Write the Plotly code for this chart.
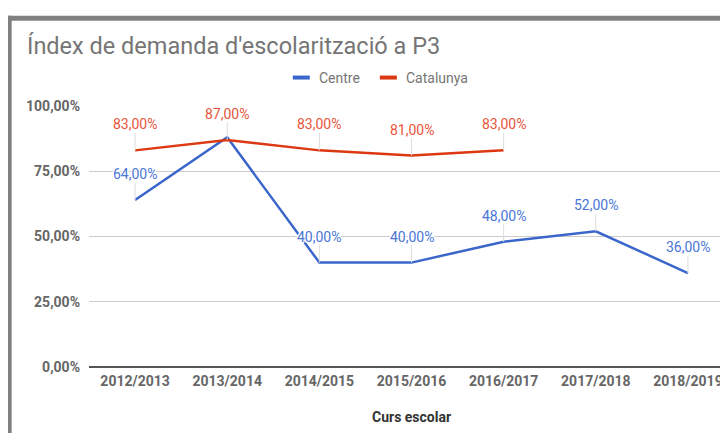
import plotly.graph_objects as go

cursos = ["2012/2013", "2013/2014", "2014/2015", "2015/2016", "2016/2017", "2017/2018", "2018/2019"]
centre = [64, 88, 40, 40, 48, 52, 36]
catalunya = [83, 87, 83, 81, 83, None, None]
series_names = ["Centre", "Catalunya"]
y_ticks = [0, 25, 50, 75, 100]
centre_hidden_labels = ["2013/2014"]

title_text = "Índex de demanda d'escolarització a P3"
x_title = "Curs escolar"

BLUE = "#3a66cc"
RED = "#dc3912"
BLUE_TXT = "#4a76d6"
RED_TXT = "#e8553a"


def fmt(v):
    return f"{v:.2f}".replace(".", ",") + "%"


# page body has an 8px margin: figure pixel = reference pixel - 8
OFF = 8
W, H = 720, 425
L, R, T, B = 89.3 - OFF, 0, 105.5 - OFF, H - (367 - OFF)
pw, ph = W - L - R, H - T - B
band = 92.1


def px_x(px):
    return (px - OFF - L) / pw


def px_y(py):
    return (H - B - (py - OFF)) / ph


fig = go.Figure()
fig.add_trace(go.Scatter(x=cursos, y=centre, name=series_names[0], mode="lines",
                         line=dict(color=BLUE, width=2.5)))
fig.add_trace(go.Scatter(x=cursos, y=catalunya, name=series_names[1], mode="lines",
                         line=dict(color=RED, width=2.5)))

halo = ("white 1px 0px 0px, white -1px 0px 0px, white 0px 1px 0px, white 0px -1px 0px, "
        "white 1px 1px 0px, white -1px -1px 0px, white 1px -1px 0px, white -1px 1px 0px")

annotations = []
for series, color in ((centre, BLUE_TXT), (catalunya, RED_TXT)):
    for c, v in zip(cursos, series):
        if v is None:
            continue
        if series is centre and c in centre_hidden_labels:
            continue
        annotations.append(dict(
            x=c, y=v, xref="x", yref="y", text=fmt(v), showarrow=True,
            ax=0, ay=-26, arrowhead=0, arrowwidth=1, arrowcolor="#dddddd",
            standoff=0, borderpad=0,
            font=dict(family="Roboto", size=14, color=color, shadow=halo)))

annotations.append(dict(
    x=px_x(411.6), y=px_y(417), xref="paper", yref="paper", text=x_title,
    showarrow=False, xanchor="center", yanchor="middle",
    font=dict(family="Roboto", size=14, color="#333333", weight="bold")))

border = "#808080"
shapes = [
    dict(type="rect", xref="paper", yref="paper", x0=px_x(7), x1=px_x(740), y0=px_y(20), y1=px_y(15),
         fillcolor=border, line=dict(width=0), layer="above"),
    dict(type="rect", xref="paper", yref="paper", x0=px_x(7), x1=px_x(12), y0=px_y(445), y1=px_y(15),
         fillcolor=border, line=dict(width=0), layer="above"),
]

# custom legend (short thick swatches like the reference)
legend_swatch_x = [293, 380]
for name, color, sx in zip(series_names, (BLUE, RED), legend_swatch_x):
    shapes.append(dict(type="rect", xref="paper", yref="paper",
                       x0=px_x(sx), x1=px_x(sx + 17), y0=px_y(79), y1=px_y(75),
                       fillcolor=color, line=dict(width=0)))
    annotations.append(dict(x=px_x(sx + 24), y=px_y(77), xref="paper", yref="paper",
                            text=name, showarrow=False, xanchor="left", yanchor="middle",
                            font=dict(family="Roboto", size=14, color="#757575")))

fig.update_layout(
    width=W, height=H,
    margin=dict(l=L, r=R, t=T, b=B, autoexpand=False),
    paper_bgcolor="white", plot_bgcolor="white",
    font=dict(family="Roboto", color="#666666"),
    title=dict(text=title_text, x=(27 - OFF) / W, xanchor="left", xref="container",
               y=1 - (46 - OFF) / H, yanchor="middle", yref="container",
               font=dict(family="Roboto", size=23.5, color="#757575")),
    showlegend=False,
    annotations=annotations,
    shapes=shapes,
    xaxis=dict(type="category", range=[-0.5, -0.5 + pw / band],
               showgrid=False, zeroline=False, showline=False, ticks="",
               tickfont=dict(family="Roboto", size=14, color="#666666", weight="bold"),
               ticklabelstandoff=4, automargin=False),
    yaxis=dict(range=[0, 100], tickvals=y_ticks, ticktext=[fmt(v) for v in y_ticks],
               showgrid=True, gridcolor="#cccccc", gridwidth=1,
               zeroline=True, zerolinecolor="#555555", zerolinewidth=1.5,
               showline=False, ticks="",
               tickfont=dict(family="Roboto", size=14, color="#666666", weight="bold"),
               ticklabelstandoff=8, automargin=False),
)

fig.write_html("out.html")
